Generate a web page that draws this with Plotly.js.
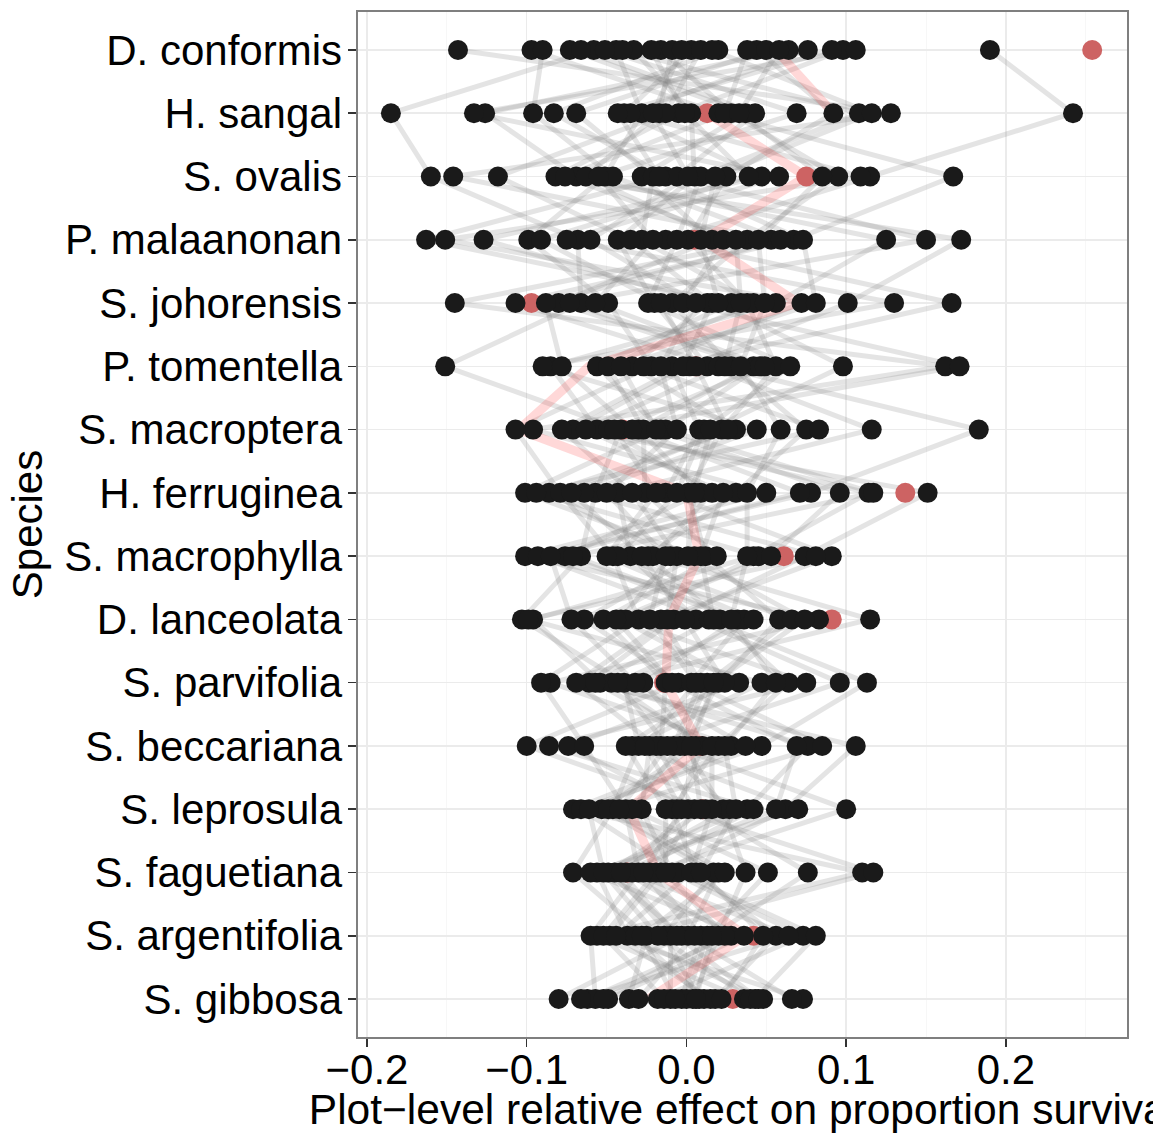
<!DOCTYPE html>
<html>
<head>
<meta charset="utf-8">
<script src="https://cdn.plot.ly/plotly-3.0.1.min.js"></script>
<style>html,body{margin:0;padding:0;background:#fff;overflow:hidden}</style>
</head>
<body>
<div id="chart" style="width:1153px;height:1133px"></div>
<script>
// Species (top to bottom)
const species = ["D. conformis","H. sangal","S. ovalis","P. malaanonan","S. johorensis","P. tomentella","S. macroptera","H. ferruginea","S. macrophylla","D. lanceolata","S. parvifolia","S. beccariana","S. leprosula","S. faguetiana","S. argentifolia","S. gibbosa"];

// Plot-level values per species, listed in plot order (plot k = k-th entry of each array)
const dConformis   = [0.003,-0.073,0.064,-0.033,0.190,-0.143,0.020,-0.016,-0.058,0.098,0.044,-0.044,-0.097,0.050,-0.009,0.106,-0.066,0.009,0.076,-0.040,-0.090,0.038,-0.022,0.091,-0.051,-0.003,0.058,0.016];
const hSangal      = [-0.039,0.037,-0.126,0.003,0.242,0.128,-0.083,0.028,-0.185,-0.005,0.092,-0.028,0.020,-0.069,-0.017,-0.133,0.043,-0.013,-0.035,0.108,-0.096,0.024,-0.001,-0.043,0.069,-0.021,0.033,0.116];
const sOvalis      = [0.047,-0.028,-0.069,0.005,0.115,-0.146,-0.013,0.095,-0.160,-0.082,0.025,-0.051,0.167,-0.021,-0.063,0.058,-0.006,-0.118,0.109,0.009,-0.046,-0.076,0.039,-0.017,-0.055,0.001,0.085,0.018];
const pMalaanonan  = [-0.127,0.016,0.125,-0.043,-0.013,0.053,-0.163,0.038,-0.068,0.172,0.001,-0.099,0.067,-0.028,0.023,-0.075,0.150,-0.035,-0.151,-0.006,0.059,0.031,-0.091,0.073,-0.021,-0.060,0.045,0.009];
const sJohorensis  = [0.013,-0.080,0.056,-0.020,0.166,-0.145,0.028,-0.009,-0.066,0.101,0.038,-0.049,-0.107,0.042,-0.002,0.130,-0.073,0.016,0.072,-0.024,-0.088,0.034,-0.016,0.081,-0.057,0.006,0.049,0.020];
const pTomentella  = [-0.034,0.042,-0.085,0.013,-0.009,0.162,-0.056,0.028,-0.151,0.002,0.056,-0.022,0.020,-0.049,0.171,-0.090,0.046,-0.002,-0.027,0.065,-0.078,0.024,0.006,-0.041,0.049,-0.016,0.034,0.098];
const sMacroptera  = [0.031,-0.030,-0.056,0.116,0.008,-0.096,-0.016,0.075,-0.041,-0.071,0.022,-0.107,0.183,-0.027,-0.049,0.044,-0.013,-0.078,0.083,0.011,-0.034,-0.063,0.026,-0.019,-0.045,-0.006,0.059,0.015];
const hFerruginea  = [-0.086,0.009,0.114,-0.043,-0.013,0.050,-0.101,0.031,-0.057,0.151,0.001,-0.079,0.078,-0.026,0.016,-0.064,0.117,-0.034,-0.094,-0.006,0.071,0.023,-0.072,0.096,-0.019,-0.050,0.038,0.005];
const sMacrophylla = [-0.010,-0.076,0.042,-0.035,0.091,-0.101,0.005,-0.024,-0.066,0.074,0.012,-0.046,-0.093,0.019,-0.021,0.081,-0.071,-0.006,0.045,-0.043,-0.085,0.009,-0.028,0.053,-0.050,-0.013,0.038,0.001];
const dLanceolata  = [-0.041,0.032,-0.096,0.006,-0.016,0.083,-0.064,0.021,-0.103,-0.008,0.058,-0.030,0.014,-0.052,0.115,-0.099,0.036,-0.012,-0.038,0.066,-0.072,0.017,-0.001,-0.044,0.042,-0.023,0.028,0.074];
const sParvifolia  = [0.033,-0.027,-0.054,0.096,0.009,-0.085,-0.005,0.064,-0.039,-0.061,0.020,-0.091,0.113,-0.013,-0.047,0.047,0.003,-0.069,0.075,0.013,-0.032,-0.057,0.024,-0.009,-0.043,0.006,0.056,0.017];
const sBeccariana  = [-0.074,0.006,0.076,-0.023,-0.008,0.028,-0.100,0.020,-0.030,0.106,-0.001,-0.064,0.047,-0.016,0.010,-0.034,0.085,-0.019,-0.086,-0.004,0.037,0.016,-0.038,0.069,-0.012,-0.026,0.024,0.003];
const sLeprosula   = [0.001,-0.053,0.038,-0.028,0.100,-0.071,0.012,-0.009,-0.046,0.062,0.023,-0.038,-0.066,0.027,-0.006,0.070,-0.049,0.005,0.042,-0.034,-0.061,0.016,-0.013,0.056,-0.042,-0.003,0.031,0.009];
const sFaguetiana  = [-0.038,0.017,-0.056,-0.009,-0.023,0.110,-0.049,0.006,-0.071,-0.016,0.037,-0.030,-0.005,-0.045,0.117,-0.060,0.020,-0.019,-0.034,0.051,-0.052,0.003,-0.013,-0.041,0.024,-0.027,0.009,0.076];
const sArgentifolia= [0.028,-0.014,-0.037,0.073,0.009,-0.056,-0.003,0.056,-0.025,-0.048,0.020,-0.060,0.081,-0.010,-0.032,0.036,0.001,-0.052,0.064,0.013,-0.018,-0.044,0.024,-0.006,-0.028,0.005,0.048,0.016];
const sGibbosa     = [-0.062,0.008,0.048,-0.018,-0.003,0.036,-0.080,0.018,-0.036,0.073,0.004,-0.057,0.043,-0.010,0.011,-0.049,0.066,-0.014,-0.066,0.000,0.040,0.015,-0.052,0.045,-0.007,-0.030,0.022,0.006];

// Highlighted (red) points, one per species
const highlightValues = [0.254,0.013,0.075,0.005,-0.097,0.006,-0.040,0.137,0.061,0.091,-0.014,0.009,0.010,-0.037,0.042,0.029];

// Highlighted (pink) path
const redLineSpecies = ["D. conformis","H. sangal",null,"H. sangal","S. ovalis","P. malaanonan","S. johorensis","P. tomentella","S. macroptera","H. ferruginea","S. macrophylla","D. lanceolata","S. parvifolia","S. beccariana","S. leprosula","S. faguetiana","S. argentifolia","S. gibbosa"];
const redLineValues  = [0.056,0.092,null,0.013,0.075,0.010,0.070,-0.061,-0.105,0.000,0.008,-0.011,-0.013,0.009,-0.036,-0.018,0.037,-0.024];

// Axis ticks
const xTickValues = [-0.2,-0.1,0,0.1,0.2];
const xTickLabels = ["\u22120.2","\u22120.1","0.0","0.1","0.2"];
const xMinorValues = [-0.15,-0.05,0.05,0.15,0.25];

const plotValues = [dConformis,hSangal,sOvalis,pMalaanonan,sJohorensis,pTomentella,sMacroptera,hFerruginea,sMacrophylla,dLanceolata,sParvifolia,sBeccariana,sLeprosula,sFaguetiana,sArgentifolia,sGibbosa];

const traces = [];
const nPlots = plotValues[0].length;
for (let k = 0; k < nPlots; k++) {
  traces.push({
    type: 'scatter', mode: 'lines',
    x: plotValues.map(a => a[k]), y: species,
    line: {color: 'rgba(127,127,127,0.21)', width: 5},
    hoverinfo: 'skip', showlegend: false
  });
}
traces.push({
  type: 'scatter', mode: 'lines',
  x: redLineValues, y: redLineSpecies,
  line: {color: 'rgba(255,60,60,0.2)', width: 9},
  connectgaps: false, hoverinfo: 'skip', showlegend: false
});
traces.push({
  type: 'scatter', mode: 'markers',
  x: highlightValues, y: species,
  marker: {color: '#CD6363', size: 20, line: {width: 0}},
  hoverinfo: 'skip', showlegend: false
});
const bx = [], by = [];
plotValues.forEach((arr, i) => arr.forEach(v => { bx.push(v); by.push(species[i]); }));
traces.push({
  type: 'scatter', mode: 'markers',
  x: bx, y: by,
  marker: {color: '#1a1a1a', size: 20, line: {width: 0}},
  hoverinfo: 'skip', showlegend: false
});

const layout = {
  width: 1153, height: 1133,
  margin: {l: 358, r: 26, t: 12, b: 96, pad: 0},
  paper_bgcolor: '#ffffff', plot_bgcolor: '#ffffff',
  font: {family: '"Liberation Sans", Arial, sans-serif', size: 42, color: '#000'},
  showlegend: false,
  xaxis: {
    range: [-0.2056, 0.2758],
    tickmode: 'array', tickvals: xTickValues, ticktext: xTickLabels,
    ticks: 'outside', ticklen: 8, tickwidth: 1.6, tickcolor: '#333333',
    ticklabelstandoff: -13,
    tickfont: {size: 42, color: '#000'},
    showgrid: true, gridcolor: '#EBEBEB', gridwidth: 1.6,
    minor: {tickvals: xMinorValues, showgrid: true, gridcolor: '#F5F5F5', gridwidth: 0.8, ticks: ''},
    zeroline: false, showline: true, mirror: true, linecolor: '#7F7F7F', linewidth: 1.6,
    automargin: false,
    title: {text: 'Plot\u2212level relative effect on proportion survival', font: {size: 42.5, color: '#000'}, standoff: 5}
  },
  yaxis: {
    type: 'category', categoryorder: 'array', categoryarray: species,
    range: [15.6, -0.6],
    ticks: 'outside', ticklen: 8, tickwidth: 1.6, tickcolor: '#333333',
    ticklabelstandoff: -2,
    tickfont: {size: 42, color: '#000'},
    showgrid: true, gridcolor: '#EBEBEB', gridwidth: 1.6,
    zeroline: false, showline: true, mirror: true, linecolor: '#7F7F7F', linewidth: 1.6,
    automargin: false,
    title: {text: 'Species', font: {size: 42, color: '#000'}, standoff: 8}
  }
};

Plotly.newPlot('chart', traces, layout, {staticPlot: true, displayModeBar: false});
</script>
</body>
</html>
